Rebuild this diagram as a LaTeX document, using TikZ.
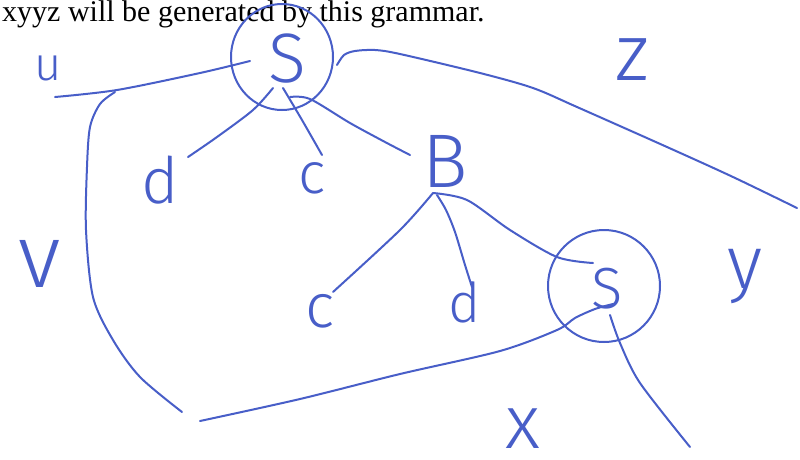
\documentclass[tikz,border=0pt]{standalone}
\usepackage{fontspec}
\setmainfont{Liberation Serif}
\newfontfamily\hand{Fira Sans Light}
\definecolor{pencol}{RGB}{72,94,200}
\tikzset{
  pen/.style={draw=pencol, line width=2pt, line cap=round, line join=round},
  let/.style={text=pencol, inner sep=0pt, anchor=base},
}
\newcommand{\hs}[1]{\hand\fontsize{#1}{#1}\selectfont}
\begin{document}
\begin{tikzpicture}[x=1pt,y=-1pt]
\useasboundingbox (0,0) rectangle (800,459);
\clip (0,0) rectangle (800,459);
\fill[white] (0,0) rectangle (800,459);
% header text
\node[anchor=base west, inner sep=0pt, font=\fontsize{30}{31}\selectfont] (head) at (2,21) {xyyz will be generated by this grammar.};
% letters
\node[let, font=\hs{47}] (u) at (48,80) {u};
\node[let, font=\hs{70}] (S1) at (287,82) {S};
\node[let, font=\hs{64}] (d1) at (160,203) {d};
\node[let, font=\hs{58}] (c1) at (312,193) {c};
\node[let, font=\hs{76}] (B) at (445,187) {B};
\node[let, font=\hs{80}] (z) at (632,80) {z};
\node[let, font=\hs{90}] (v) at (40,287) {v};
\node[let, font=\hs{62}] (c2) at (320,327) {c};
\node[let, font=\hs{55}] (d2) at (465,322) {d};
\node[let, font=\hs{58}] (S2) at (607,308) {S};
\node[let, font=\hs{75}] (y) at (745,288) {y};
\node[let, font=\hs{76}] (x) at (523,448) {x};
% circles
\draw[pen] (282,57) ellipse [x radius=51pt, y radius=53pt];
\draw[pen] (604,286) ellipse [x radius=56pt, y radius=56pt];
% named end points
\coordinate (uL) at (55,97);
\coordinate (uR) at (250,61);
\coordinate (brT) at (115,92);
\coordinate (brB) at (182,412);
\coordinate (btL) at (200,421);
\coordinate (btR) at (613,304);
\coordinate (zL) at (337,65);
\coordinate (zR) at (797,208);
\coordinate (S1d) at (273,88);
\coordinate (S1c) at (283,88);
\coordinate (S1B) at (290,97);
\coordinate (d1t) at (188,157);
\coordinate (c1t) at (322,155);
\coordinate (Bl) at (410,155);
\coordinate (Bb) at (433,193);
\coordinate (Bb2) at (437,195);
\coordinate (c2t) at (333,292);
\coordinate (d2t) at (472,287);
\coordinate (S2l) at (593,263);
\coordinate (S2b) at (610,315);
\coordinate (xe) at (690,447);
% strokes
\draw[pen] plot[smooth] coordinates {(uL) (117,90) (200,73) (uR)};
\draw[pen] plot[smooth] coordinates {(brT) (100,104) (90,127) (87,167) (86,230) (93,297) (113,340) (140,377) (brB)};
\draw[pen] plot[smooth] coordinates {(btL) (300,399) (400,374) (500,351) (557,330) (575,318) (595,309) (btR)};
\draw[pen] plot[smooth] coordinates {(zL) (344,55) (355,51) (375,50) (400,54) (480,73) (533,88) (577,107) (667,147) (733,177) (zR)};
\draw[pen] plot[smooth] coordinates {(S1d) (253,110) (217,137) (d1t)};
\draw[pen] plot[smooth] coordinates {(S1c) (302,120) (c1t)};
\draw[pen] plot[smooth] coordinates {(S1B) (310,99) (350,123) (385,142) (Bl)};
\draw[pen] plot[smooth] coordinates {(Bb) (400,230) (c2t)};
\draw[pen] plot[smooth] coordinates {(Bb2) (446,210) (455,232) (465,265) (d2t)};
\draw[pen] plot[smooth] coordinates {(Bb) (467,200) (510,230) (557,257) (S2l)};
\draw[pen] plot[smooth] coordinates {(S2b) (620,343) (640,383) (xe)};
\end{tikzpicture}
\end{document}
